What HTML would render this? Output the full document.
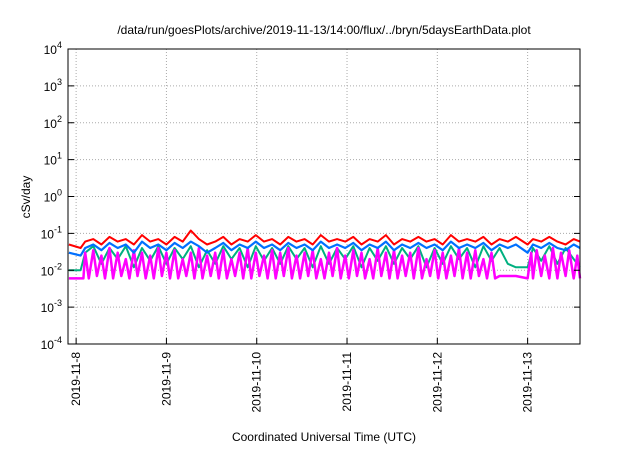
<!DOCTYPE html>
<html><head><meta charset="utf-8"><style>
body{margin:0;background:#fff;}
svg text{font-family:"Liberation Sans",sans-serif;fill:#000;}
</style></head><body>
<svg id="chart" width="640" height="448" xmlns="http://www.w3.org/2000/svg">
<rect width="640" height="448" fill="#fff"/>
<text x="324" y="34" font-size="12" text-anchor="middle">/data/run/goesPlots/archive/2019-11-13/14:00/flux/../bryn/5daysEarthData.plot</text>
<text transform="translate(30,197) rotate(-90)" font-size="12" text-anchor="middle">cSv/day</text>
<text x="324" y="441" font-size="12" text-anchor="middle">Coordinated Universal Time (UTC)</text>
<g id="grid"></g><g id="series"></g><g id="axes"></g>
<rect x="68" y="49" width="512" height="295" fill="none" stroke="#000" stroke-width="1"/>
</svg>
<script>
const yTickExps=[4,3,2,1,0,-1,-2,-3,-4];
const xTickLabels=["2019-11-8","2019-11-9","2019-11-10","2019-11-11","2019-11-12","2019-11-13"];
const xTickDays=[0,1,2,3,4,5];
const times=[-0.08,0.05,0.10,0.19,0.28,0.37,0.46,0.55,0.64,0.73,0.82,0.91,1.00,1.09,1.18,1.27,1.36,1.45,1.54,1.63,1.72,1.81,1.90,1.99,2.08,2.17,2.26,2.35,2.44,2.53,2.62,2.71,2.80,2.89,2.98,3.07,3.16,3.25,3.34,3.43,3.52,3.61,3.70,3.79,3.88,3.97,4.06,4.15,4.24,4.33,4.42,4.51,4.60,4.69,4.78,4.87,5.00,5.06,5.15,5.24,5.33,5.42,5.51,5.58];
const redVals=[0.05,0.04,0.06,0.07,0.05,0.08,0.06,0.07,0.05,0.09,0.06,0.07,0.05,0.08,0.06,0.12,0.07,0.05,0.06,0.08,0.05,0.07,0.06,0.09,0.06,0.07,0.05,0.08,0.06,0.07,0.05,0.09,0.06,0.07,0.06,0.08,0.05,0.07,0.06,0.09,0.05,0.07,0.06,0.08,0.06,0.07,0.05,0.09,0.06,0.07,0.06,0.08,0.05,0.07,0.06,0.08,0.05,0.07,0.06,0.08,0.06,0.05,0.07,0.06];
const blueVals=[0.03,0.025,0.04,0.05,0.035,0.055,0.04,0.05,0.03,0.06,0.04,0.05,0.035,0.055,0.04,0.06,0.045,0.03,0.04,0.055,0.035,0.05,0.04,0.06,0.04,0.05,0.035,0.055,0.04,0.05,0.035,0.06,0.04,0.05,0.04,0.055,0.035,0.05,0.04,0.06,0.035,0.05,0.04,0.055,0.04,0.05,0.035,0.06,0.04,0.05,0.04,0.055,0.035,0.05,0.04,0.05,0.03,0.05,0.04,0.055,0.04,0.035,0.05,0.04];
const greenVals=[0.01,0.01,0.03,0.045,0.015,0.04,0.02,0.045,0.012,0.04,0.018,0.045,0.015,0.04,0.02,0.045,0.012,0.035,0.015,0.045,0.02,0.04,0.012,0.045,0.018,0.04,0.015,0.045,0.02,0.04,0.012,0.045,0.015,0.04,0.02,0.045,0.012,0.04,0.018,0.045,0.015,0.04,0.02,0.045,0.012,0.04,0.015,0.045,0.02,0.04,0.012,0.045,0.018,0.04,0.015,0.012,0.012,0.04,0.018,0.045,0.015,0.04,0.02,0.012];
const magentaTimes=[-0.08,0.05,0.08,0.10,0.14,0.19,0.23,0.28,0.32,0.37,0.41,0.46,0.50,0.55,0.59,0.64,0.68,0.73,0.77,0.82,0.86,0.91,0.95,1.00,1.04,1.09,1.13,1.18,1.22,1.27,1.31,1.36,1.40,1.45,1.49,1.54,1.58,1.63,1.67,1.72,1.76,1.81,1.85,1.90,1.94,1.99,2.03,2.08,2.12,2.17,2.21,2.26,2.30,2.35,2.39,2.44,2.48,2.53,2.57,2.62,2.66,2.71,2.75,2.80,2.84,2.89,2.93,2.98,3.02,3.07,3.11,3.16,3.20,3.25,3.29,3.34,3.38,3.43,3.47,3.52,3.56,3.61,3.65,3.70,3.74,3.79,3.83,3.88,3.92,3.97,4.01,4.06,4.10,4.15,4.19,4.24,4.28,4.33,4.37,4.42,4.46,4.51,4.55,4.60,4.64,4.69,4.78,4.87,5.00,5.04,5.06,5.10,5.15,5.19,5.24,5.28,5.33,5.37,5.42,5.46,5.51,5.55,5.58];
const magentaVals=[0.006,0.006,0.006,0.03,0.006,0.035,0.007,0.025,0.006,0.04,0.006,0.03,0.007,0.02,0.006,0.035,0.007,0.03,0.006,0.025,0.006,0.04,0.007,0.03,0.006,0.035,0.006,0.02,0.007,0.03,0.006,0.04,0.006,0.025,0.007,0.03,0.006,0.035,0.006,0.02,0.007,0.03,0.006,0.04,0.006,0.03,0.007,0.025,0.006,0.035,0.006,0.03,0.007,0.04,0.006,0.025,0.006,0.03,0.007,0.035,0.006,0.02,0.006,0.03,0.007,0.04,0.006,0.025,0.006,0.035,0.007,0.03,0.006,0.02,0.006,0.04,0.007,0.03,0.006,0.035,0.006,0.025,0.007,0.03,0.006,0.04,0.006,0.02,0.007,0.035,0.006,0.03,0.006,0.025,0.007,0.04,0.006,0.03,0.006,0.035,0.007,0.02,0.006,0.03,0.006,0.007,0.007,0.007,0.006,0.03,0.006,0.035,0.007,0.025,0.006,0.04,0.006,0.03,0.007,0.035,0.006,0.025,0.006];
const NS="http://www.w3.org/2000/svg";
const L=68,R=580,T=49,B=344,D0=-0.09,D1=5.58;
const X=d=>L+(d-D0)/(D1-D0)*(R-L);
const Y=v=>B-(Math.log10(v)+4)/8*(B-T);
function mk(tag,attrs,parent){const e=document.createElementNS(NS,tag);for(const k in attrs)e.setAttribute(k,attrs[k]);parent.appendChild(e);return e;}
const grid=document.getElementById('grid'),axes=document.getElementById('axes'),ser=document.getElementById('series');
yTickExps.forEach(ex=>{
  const y=Y(Math.pow(10,ex));
  if(ex<4&&ex>-4){const g=mk('line',{x1:L,x2:R,y1:y,y2:y,stroke:'#aaa','stroke-dasharray':'1,2','stroke-width':1},grid);
  
  }
  const t=mk('line',{x1:L,x2:L+6,y1:y,y2:y,stroke:'#000'},axes);
  
  
  const t2=mk('line',{x1:R,x2:R-6,y1:y,y2:y,stroke:'#000'},axes);
  
  
  const tx=mk('text',{x:62,y:y+5,'font-size':12,'text-anchor':'end'},axes);
  
  
  tx.innerHTML='10<tspan dy="-6" font-size="9">'+ex+'</tspan>';
});
xTickDays.forEach((d,i)=>{
  const x=X(d);
  const g=mk('line',{x1:x,x2:x,y1:T,y2:B,stroke:'#aaa','stroke-dasharray':'1,2'},grid);
  
  
  const t=mk('line',{x1:x,x2:x,y1:B,y2:B-6,stroke:'#000'},axes);
  
  
  const tx=mk('text',{transform:`translate(${x+4},352) rotate(-90)`,'font-size':12,'text-anchor':'end'},axes);
  
  
  tx.textContent=xTickLabels[i];
});
[[times,redVals,'#f00','series-red',2],[times,greenVals,'#00b080','series-green',2],[magentaTimes,magentaVals,'#f0f','series-magenta',2.5],[times,blueVals,'#0070ff','series-blue',2.2]].forEach(([ts,vals,c,name,w])=>{
  const n=Math.min(vals.length,ts.length);
  let d='';for(let i=0;i<n;i++)d+=(i?'L':'M')+X(ts[i]).toFixed(1)+','+Y(vals[i]).toFixed(1);
  const p=mk('path',{d:d,fill:'none',stroke:c,'stroke-width':w,'stroke-linejoin':'round'},ser);
  
  
});
</script>
</body></html>
